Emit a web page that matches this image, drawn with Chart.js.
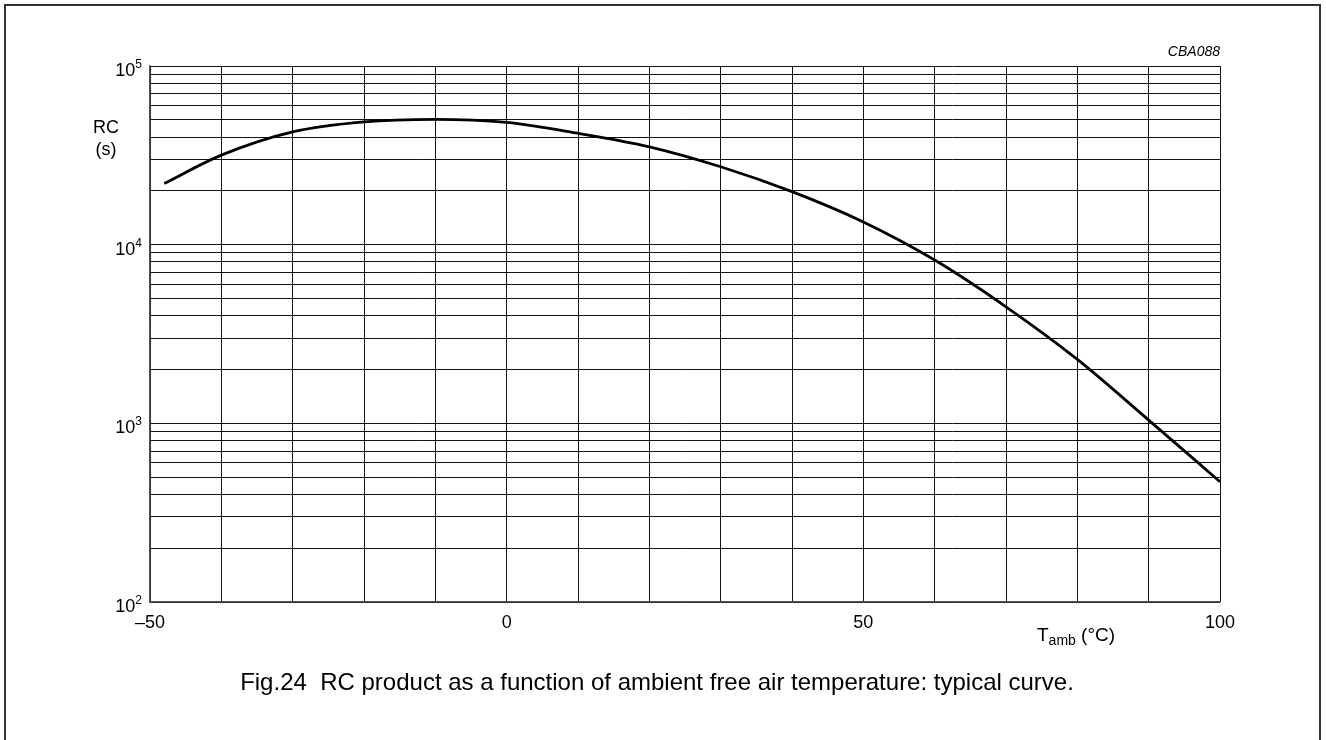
<!DOCTYPE html>
<html>
<head>
<meta charset="utf-8">
<script src="https://cdn.jsdelivr.net/npm/chart.js@4/dist/chart.umd.min.js"></script>
<style>
  html, body { margin: 0; padding: 0; background: #fff; overflow: hidden; }
  #wrap { position: relative; width: 1326px; height: 740px; }
  #frame { position: absolute; left: 4px; top: 4px; width: 1317px; height: 800px; border: 2px solid #333; box-sizing: border-box; }
  #chart { position: absolute; left: 0; top: 0; }
  #caption { position: absolute; left: -6px; width: 1326px; top: 668px; text-align: center;
             font-family: "Liberation Sans", Arial, sans-serif; font-size: 24px; color: #000; white-space: nowrap; }
</style>
</head>
<body>
<div id="wrap">
  <div id="frame"></div>
  <canvas id="chart" width="1326" height="740"></canvas>
  <div id="caption">Fig.24&nbsp;&nbsp;RC product as a function of ambient free air temperature: typical curve.</div>
</div>
<script>
// temperature (°C) and RC product (s)
const temps = [-48, -40, -30, -20, -10, 0, 10, 20, 30, 40, 50, 60, 70, 80, 90, 100];
const rcValues = [22000, 31700, 42800, 48700, 50300, 48300, 42000, 35300, 27300, 19800, 13400, 8200, 4490, 2280, 1043, 471];

// tick / grid values
const xLabelValues = [-50, 0, 50, 100];
const xLabelTexts = ["\u201350", "0", "50", "100"];
const decades = [100, 1000, 10000, 100000];
const decadeExp = ["2", "3", "4", "5"];
const mantissas = [1, 2, 3, 4, 5, 6, 7, 8, 9];

const FONT = '"Liberation Sans", Arial, sans-serif';

(function(){
    "use strict";

    let gridValues = [];
    decades.forEach(function(d){
        mantissas.forEach(function(m){
            if (d * m <= 100000) gridValues.push(d * m);
        });
    });

    const labelsPlugin = {
        id: "labels",
        afterDraw: function(chart){
            const ctx = chart.ctx;
            const xs = chart.scales.x;
            const ys = chart.scales.y;
            const area = chart.chartArea;
            ctx.save();
            ctx.fillStyle = "#000";

            // x tick labels
            ctx.font = "18px " + FONT;
            ctx.textAlign = "center";
            ctx.textBaseline = "middle";
            xLabelValues.forEach(function(v, i){
                ctx.fillText(xLabelTexts[i], xs.getPixelForValue(v), area.bottom + 21);
            });

            // y tick labels with superscript exponents
            decades.forEach(function(v, i){
                const y = ys.getPixelForValue(v);
                ctx.font = "12px " + FONT;
                const ew = ctx.measureText(decadeExp[i]).width;
                ctx.textAlign = "left";
                ctx.textBaseline = "alphabetic";
                ctx.fillText(decadeExp[i], area.left - 8 - ew, y + 2);
                ctx.font = "18px " + FONT;
                ctx.textAlign = "right";
                ctx.fillText("10", area.left - 8 - ew, y + 10);
            });

            // y axis title
            ctx.font = "18px " + FONT;
            ctx.textAlign = "center";
            ctx.textBaseline = "middle";
            ctx.fillText("RC", 106, 128);
            ctx.fillText("(s)", 106, 150);

            // x axis title T_amb (°C)
            ctx.textAlign = "left";
            ctx.textBaseline = "alphabetic";
            let tx = 1037;
            const base = 641;
            ctx.font = "19px " + FONT;
            ctx.fillText("T", tx, base);
            tx += ctx.measureText("T").width;
            ctx.font = "14px " + FONT;
            ctx.fillText("amb", tx, base + 4);
            tx += ctx.measureText("amb").width;
            ctx.font = "19px " + FONT;
            ctx.fillText(" (\u00B0C)", tx, base);

            // figure code
            ctx.font = "italic 14px " + FONT;
            ctx.textAlign = "right";
            ctx.fillText("CBA088", area.right, 56);
            ctx.restore();
        }
    };

    const points = temps.map(function(t, i){ return {x: t, y: rcValues[i]}; });

    const ctx = document.getElementById("chart").getContext("2d");
    new Chart(ctx, {
        type: "line",
        data: {
            datasets: [
                {
                    data: points,
                    borderColor: "#000",
                    borderWidth: 2.8,
                    pointRadius: 0,
                    fill: false,
                    cubicInterpolationMode: "monotone",
                },
            ],
        },
        options: {
            responsive: false,
            animation: false,
            devicePixelRatio: 1,
            layout: {
                padding: {left: 150, top: 66, right: 106, bottom: 138},
            },
            plugins: {
                legend: {display: false},
                tooltip: {enabled: false},
            },
            scales: {
                x: {
                    type: "linear",
                    min: -50,
                    max: 100,
                    ticks: {stepSize: 10, display: false},
                    grid: {color: "#111", lineWidth: 1, drawTicks: false},
                    border: {display: true, color: "#555", width: 1.5},
                },
                y: {
                    type: "logarithmic",
                    min: 100,
                    max: 100000,
                    afterBuildTicks: function(scale){
                        scale.ticks = gridValues.map(function(v){ return {value: v}; });
                    },
                    ticks: {display: false},
                    grid: {color: "#111", lineWidth: 1, drawTicks: false},
                    border: {display: true, color: "#555", width: 1.5},
                },
            },
        },
        plugins: [labelsPlugin],
    });
})();
</script>
</body>
</html>
